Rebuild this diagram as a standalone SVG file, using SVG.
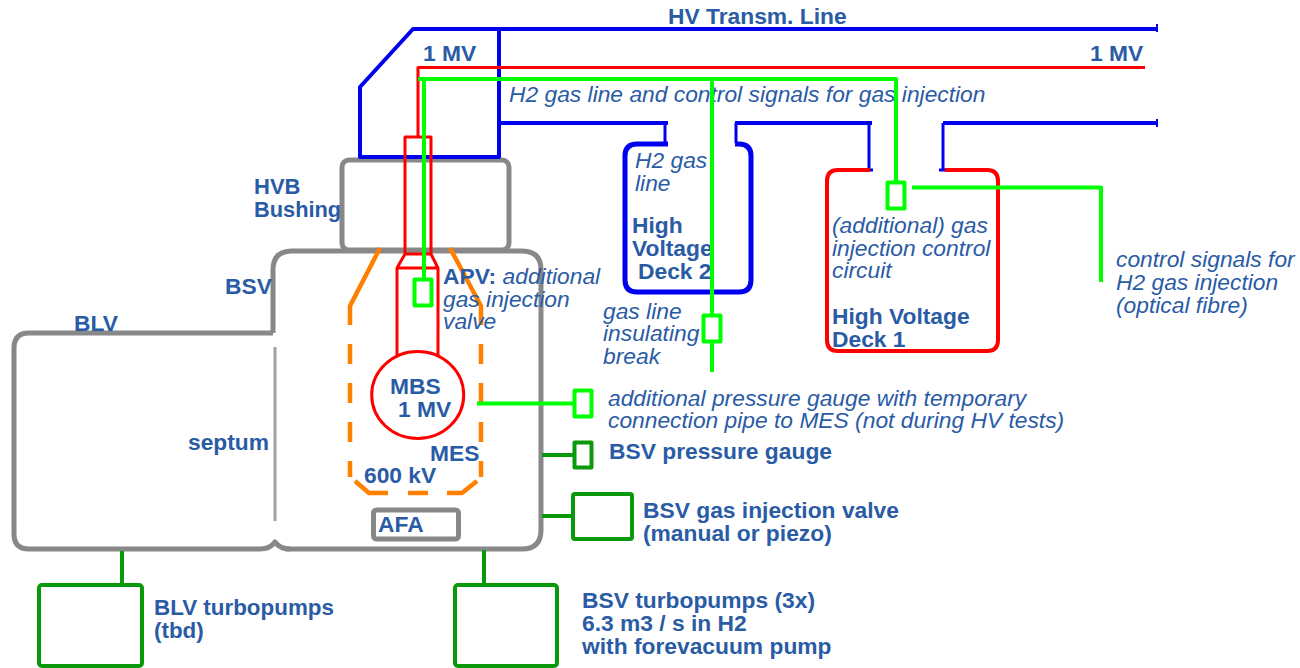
<svg xmlns="http://www.w3.org/2000/svg" width="1300" height="668" viewBox="0 0 1300 668">
<style>
text{font-family:"Liberation Sans",Arial,sans-serif;font-size:22.8px;fill:#2a5ba5}
.b{font-weight:bold}
.i{font-style:italic}
.n{fill:none;stroke-linejoin:round}
.gray{stroke:#888;stroke-width:5}
.blue{stroke:#0000f0;stroke-width:4}
.red{stroke:#f00;stroke-width:3}
.lime{stroke:#0f0;stroke-width:4}
.dg{stroke:#0a990a;stroke-width:4}
.or{stroke:#ff8000;stroke-width:4.5}
</style>
<rect width="1300" height="668" fill="#fff"/>
<g id="hvb-bushing"><rect class="n gray" x="342" y="160" width="167" height="90" rx="7"/><text class="b" x="254" y="194" font-size="22" style="font-size:22px">HVB</text><text class="b" x="254" y="217" style="font-size:21.8px">Bushing</text></g>
<g id="blv"><path class="n gray" d="M273 333H29Q14 333 14 348V534Q14 549 29 549H260Q270 549 275 542Q280 549 290 549"/><text class="b" x="74" y="331">BLV</text></g>
<g id="bsv"><path class="n gray" d="M273 333V270Q273 251 292 251H522Q541 251 541 270V530Q541 549 522 549H285"/><text class="b" x="225" y="294">BSV</text></g>
<g id="septum"><path fill="none" stroke="#a0a0a0" stroke-width="3" d="M275 347V521"/><text class="b" x="188" y="450">septum</text></g>
<g id="mes"><path class="n or" d="M380 248L350 306V325M481 325V306L450 248"/><path class="n or" stroke-dasharray="20 19" d="M350 344V477"/><path class="n or" stroke-dasharray="20 19" d="M481 344V477"/><path class="n or" d="M355 481L369 493H388M408 493H428M447 493H462L477 481"/><text class="b" x="430" y="461">MES</text><text class="b" x="364" y="483">600 kV</text></g>
<g id="afa"><rect class="n gray" x="373.500" y="510" width="85" height="29" rx="3"/><text class="b" x="378" y="532">AFA</text></g>
<g id="hv-line"><path class="n blue" d="M1157 29H413L360 87V157H499V29"/><path class="n blue" d="M499 123H668"/><path class="n blue" d="M735 123H872"/><path class="n blue" d="M943 123H1157"/><path fill="none" stroke="#0000f0" stroke-width="3" d="M665 123V143M736 123V143M869 123V170M943 123V170M867 170H873M939 170H945"/><path fill="none" stroke="#0000f0" stroke-width="2" d="M1157 24V32M1157 119V127"/><text class="b" x="668" y="24">HV Transm. Line</text><text class="b" x="423" y="61">1 MV</text><text class="b" x="1090" y="61">1 MV</text><text class="i" x="509" y="102">H2 gas line and control signals for gas injection</text></g>
<g id="hv-deck-2"><path class="n" stroke="#0000f0" stroke-width="5" d="M668 144H637Q625 144 625 156V280Q625 292 637 292H739Q751 292 751 280V156Q751 144 739 144H735"/><text class="i" x="635" y="168">H2 gas</text><text class="i" x="635" y="191">line</text><text class="b" x="632" y="233">High</text><text class="b" x="632" y="256">Voltage</text><text class="b" x="638" y="279">Deck 2</text></g>
<g id="hv-deck-1"><path class="n" stroke="#f00" stroke-width="4" d="M870 170H838Q827 170 827 181V340Q827 351 838 351H987Q998 351 998 340V181Q998 170 987 170H945"/><text class="i" x="832" y="233">(additional) gas</text><text class="i" x="832" y="256">injection control</text><text class="i" x="832" y="278">circuit</text><text class="b" x="832" y="324">High Voltage</text><text class="b" x="832" y="347">Deck 1</text></g>
<g id="mbs"><path class="n red" d="M1145 67.500H418V137M405 137H431V254H405ZM405 254L397 268H438L431 254M397 268V356M438 268V356"/><ellipse class="n red" cx="417.700" cy="395" rx="46" ry="43.500" fill="#fff"/><text class="b" x="390" y="394">MBS</text><text class="b" x="398" y="417">1 MV</text></g>
<g id="connectors"><path class="n lime" d="M418 79H896V182M424 79V280M712 79V315M712 342V372"/><path class="n lime" d="M912 187.500H1101M1101 186V282"/><path class="n lime" d="M477 403.500H574"/><path class="n dg" d="M542 455H574M542 516H573M484 550V585M122 551V585"/></g>
<g id="apv"><rect class="n lime" x="414.500" y="279.500" width="17" height="26"/><text x="443" y="284"><tspan class="b">APV:</tspan><tspan class="i"> additional</tspan></text><text class="i" x="443" y="307">gas injection</text><text class="i" x="443" y="329">valve</text></g>
<g id="insulating-break"><rect class="n lime" x="703.500" y="315.500" width="17" height="26"/><text class="i" x="603" y="319">gas line</text><text class="i" x="603" y="341">insulating</text><text class="i" x="603" y="364">break</text></g>
<g id="control-circuit"><rect class="n lime" x="887.500" y="182.500" width="17" height="26"/></g>
<g id="control-signals"><text class="i" x="1116" y="267">control signals for</text><text class="i" x="1116" y="290">H2 gas injection</text><text class="i" x="1116" y="313">(optical fibre)</text></g>
<g id="additional-gauge"><rect class="n lime" x="574.500" y="390.500" width="17" height="26"/><text class="i" x="608" y="406">additional pressure gauge with temporary</text><text class="i" x="608" y="428">connection pipe to MES (not during HV tests)</text></g>
<g id="bsv-gauge"><rect class="n dg" x="574.500" y="442.500" width="17" height="25"/><text class="b" x="609" y="459">BSV pressure gauge</text></g>
<g id="bsv-valve"><rect class="n dg" x="573" y="494" width="59" height="45" rx="2"/><text class="b" x="643" y="518">BSV gas injection valve</text><text class="b" x="643" y="541">(manual or piezo)</text></g>
<g id="blv-pumps"><rect class="n dg" x="39" y="585" width="103" height="81" rx="3"/><text class="b" x="154" y="615" style="font-size:22.4px">BLV turbopumps</text><text class="b" x="154" y="638" style="font-size:22.4px">(tbd)</text></g>
<g id="bsv-pumps"><rect class="n dg" x="455" y="585" width="102" height="81" rx="3"/><text class="b" x="582" y="608">BSV turbopumps (3x)</text><text class="b" x="582" y="631">6.3 m3 / s in H2</text><text class="b" x="582" y="654">with forevacuum pump</text></g>
</svg>
